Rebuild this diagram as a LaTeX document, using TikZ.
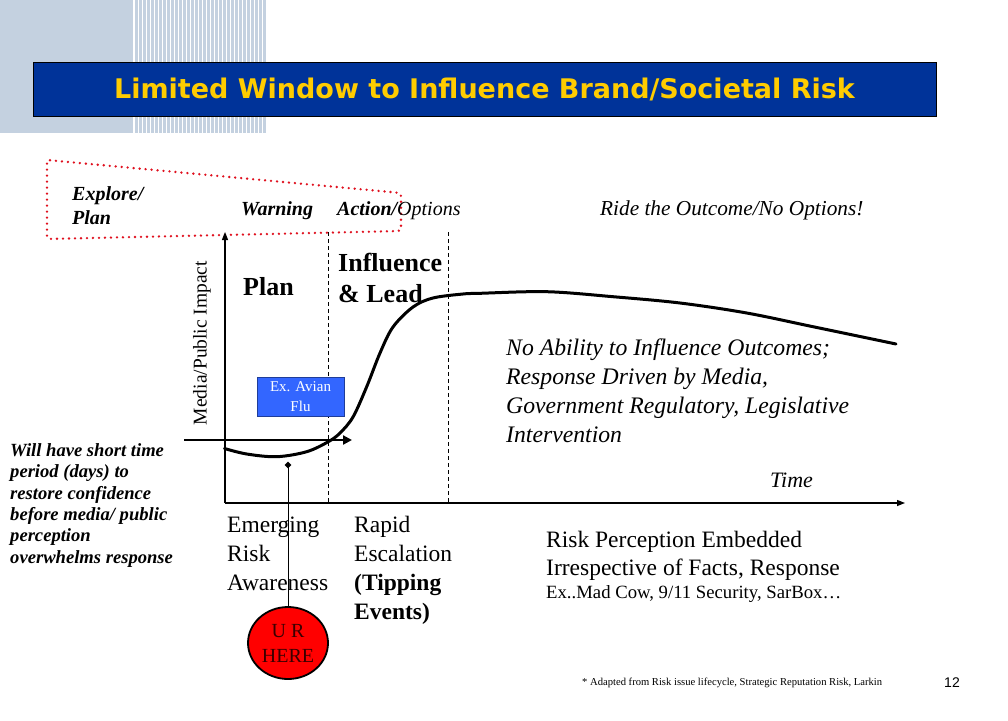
\documentclass[tikz,border=0pt]{standalone}
\usepackage{fontspec}
\setmainfont{Liberation Serif}
\newfontfamily\titlefont{DejaVu Sans}
\newfontfamily\arialfont{Liberation Sans}
\usetikzlibrary{arrows.meta,shapes.geometric}
\definecolor{stripeblue}{HTML}{C4D1E0}
\definecolor{titleblue}{HTML}{003399}
\definecolor{titleyellow}{HTML}{FFCC00}
\definecolor{boxblue}{HTML}{3366FF}
\definecolor{herered}{HTML}{3A0000}
\definecolor{dotred}{HTML}{E0101E}
\begin{document}
\begin{tikzpicture}[x=1pt,y=-1pt,
  lbl/.style={inner sep=0pt, anchor=base west, align=left},
  axisline/.style={line width=1.3pt, -{Triangle[length=8pt,width=6pt]}},
  phaseline/.style={line width=0.8pt, dash pattern=on 4pt off 3pt}]
\useasboundingbox[fill=white] (0,0) rectangle (1008,720);
% header decoration
\fill[stripeblue] (0,0) rectangle (133.3,133);
\foreach \i in {0,...,32} \fill[stripeblue] (134.8+4*\i,0) rectangle ++(2.7,133);
% title bar
\node[draw=black, line width=1pt, fill=titleblue, minimum width=903pt, minimum height=54pt, inner sep=0pt,
      text=titleyellow, font=\titlefont\bfseries\fontsize{27}{30}\selectfont] (title) at (484.5,89) {Limited Window to Influence Brand/Societal Risk};
% red dotted region
\draw[dotred, line width=2.6pt, dash pattern=on 0pt off 6pt, line cap=round, rounded corners=3pt]
  (47,160) -- (401,193) -- (401,231) -- (47,239) -- cycle;
% phase labels (base = last line baseline)
\node[lbl, font=\fontsize{20}{24}\selectfont\bfseries\itshape] (explore) at (72,224) {Explore/\\Plan};
\node[lbl, font=\fontsize{20}{24}\selectfont\bfseries\itshape] (warning) at (241,215) {Warning};
\node[lbl, font=\fontsize{20}{24}\selectfont\itshape] (action) at (337,215) {{\bfseries Action/}Options};
\node[lbl, font=\fontsize{21.3}{24}\selectfont\itshape] (ride) at (600,215) {Ride the Outcome/No Options!};
% axes
\coordinate (origin) at (225,503);
\coordinate (ytop) at (225,232);
\coordinate (xend) at (905,503);
\draw[axisline] (origin) -- (ytop);
\draw[axisline] (origin) -- (xend);
\coordinate (d1t) at (328,232); \coordinate (d1b) at (328,503);
\coordinate (d2t) at (448,232); \coordinate (d2b) at (448,503);
\draw[phaseline] (d1t) -- (d1b);
\draw[phaseline] (d2t) -- (d2b);
\node[rotate=90, inner sep=0pt, font=\fontsize{19.5}{22}\selectfont] (yl) at (202,343) {Media/Public Impact};
\node[lbl, font=\fontsize{22}{26}\selectfont\itshape] (time) at (770,487) {Time};
% region labels
\node[lbl, font=\fontsize{26}{31}\selectfont\bfseries] (plan) at (243,295) {Plan};
\node[lbl, font=\fontsize{26}{31}\selectfont\bfseries] (infl) at (338,302) {Influence\\\& Lead};
\node[lbl, font=\fontsize{23.7}{29}\selectfont\itshape] (noab) at (506,442) {No Ability to Influence Outcomes;\\Response Driven by Media,\\Government Regulatory, Legislative\\Intervention};
% Ex Avian Flu box
\node[fill=boxblue, draw=boxblue!60!black, line width=0.6pt, minimum width=87pt, minimum height=39pt, inner sep=0pt,
      text=white, align=center, font=\fontsize{15}{20}\selectfont] (avian) at (300.5,396.5) {Ex. Avian\\Flu};
% short time arrow
\coordinate (sa) at (184,440); \coordinate (sb) at (352,440);
\draw[line width=2.5pt, -{Triangle[length=9pt,width=9pt]}] (sa) -- (sb);
% curve
\draw[line width=3pt, line cap=round] plot[smooth, tension=0.55] coordinates {
 (224.5,448.5) (246.7,454) (276.7,456.7) (306.7,451.7) (328.3,441.7) (340,433) (353,417)
 (366.7,386.7) (380,353) (393,327) (413,307) (433,298) (463,294) (480,293.3) (546.7,291.7)
 (613,296.7) (680,303) (746.7,313) (813,326.7) (896,344)};
% left text
\node[lbl, font=\fontsize{18.6}{21.3}\selectfont\bfseries\itshape] (short) at (10,563) {Will have short time\\period (days) to\\restore confidence\\before media/ public\\perception\\overwhelms response};
% bottom labels
\node[lbl, font=\fontsize{23.5}{29}\selectfont] (emerg) at (227,590) {Emerging\\Risk\\Awareness};
\node[lbl, font=\fontsize{23.5}{29}\selectfont] (rapid) at (354,619) {Rapid\\Escalation\\{\bfseries (Tipping}\\{\bfseries Events)}};
\node[lbl, font=\fontsize{23.5}{28}\selectfont] (riskp) at (546,575) {Risk Perception Embedded\\Irrespective of Facts, Response};
\node[lbl, font=\fontsize{18.7}{22}\selectfont] (exmad) at (546,598) {Ex..Mad Cow, 9/11 Security, SarBox\ldots};
% you are here
\node[diamond, fill=black, minimum size=7pt, inner sep=0pt] (dia) at (288,465) {};
\node[ellipse, draw=black, line width=1.8pt, fill=red, minimum width=80pt, minimum height=72pt, inner sep=0pt,
      align=center, text=herered, font=\fontsize{20}{25}\selectfont] (ur) at (288,643) {U R\\HERE};
\draw[line width=1pt] (dia.center) -- (ur.north);
% footnote and page number
\node[lbl, font=\fontsize{10.6}{12}\selectfont] (foot) at (582,685) {* Adapted from Risk issue lifecycle, Strategic Reputation Risk, Larkin};
\node[lbl, font=\arialfont\fontsize{14}{16}\selectfont] (pnum) at (944,687) {12};
\end{tikzpicture}
\end{document}
